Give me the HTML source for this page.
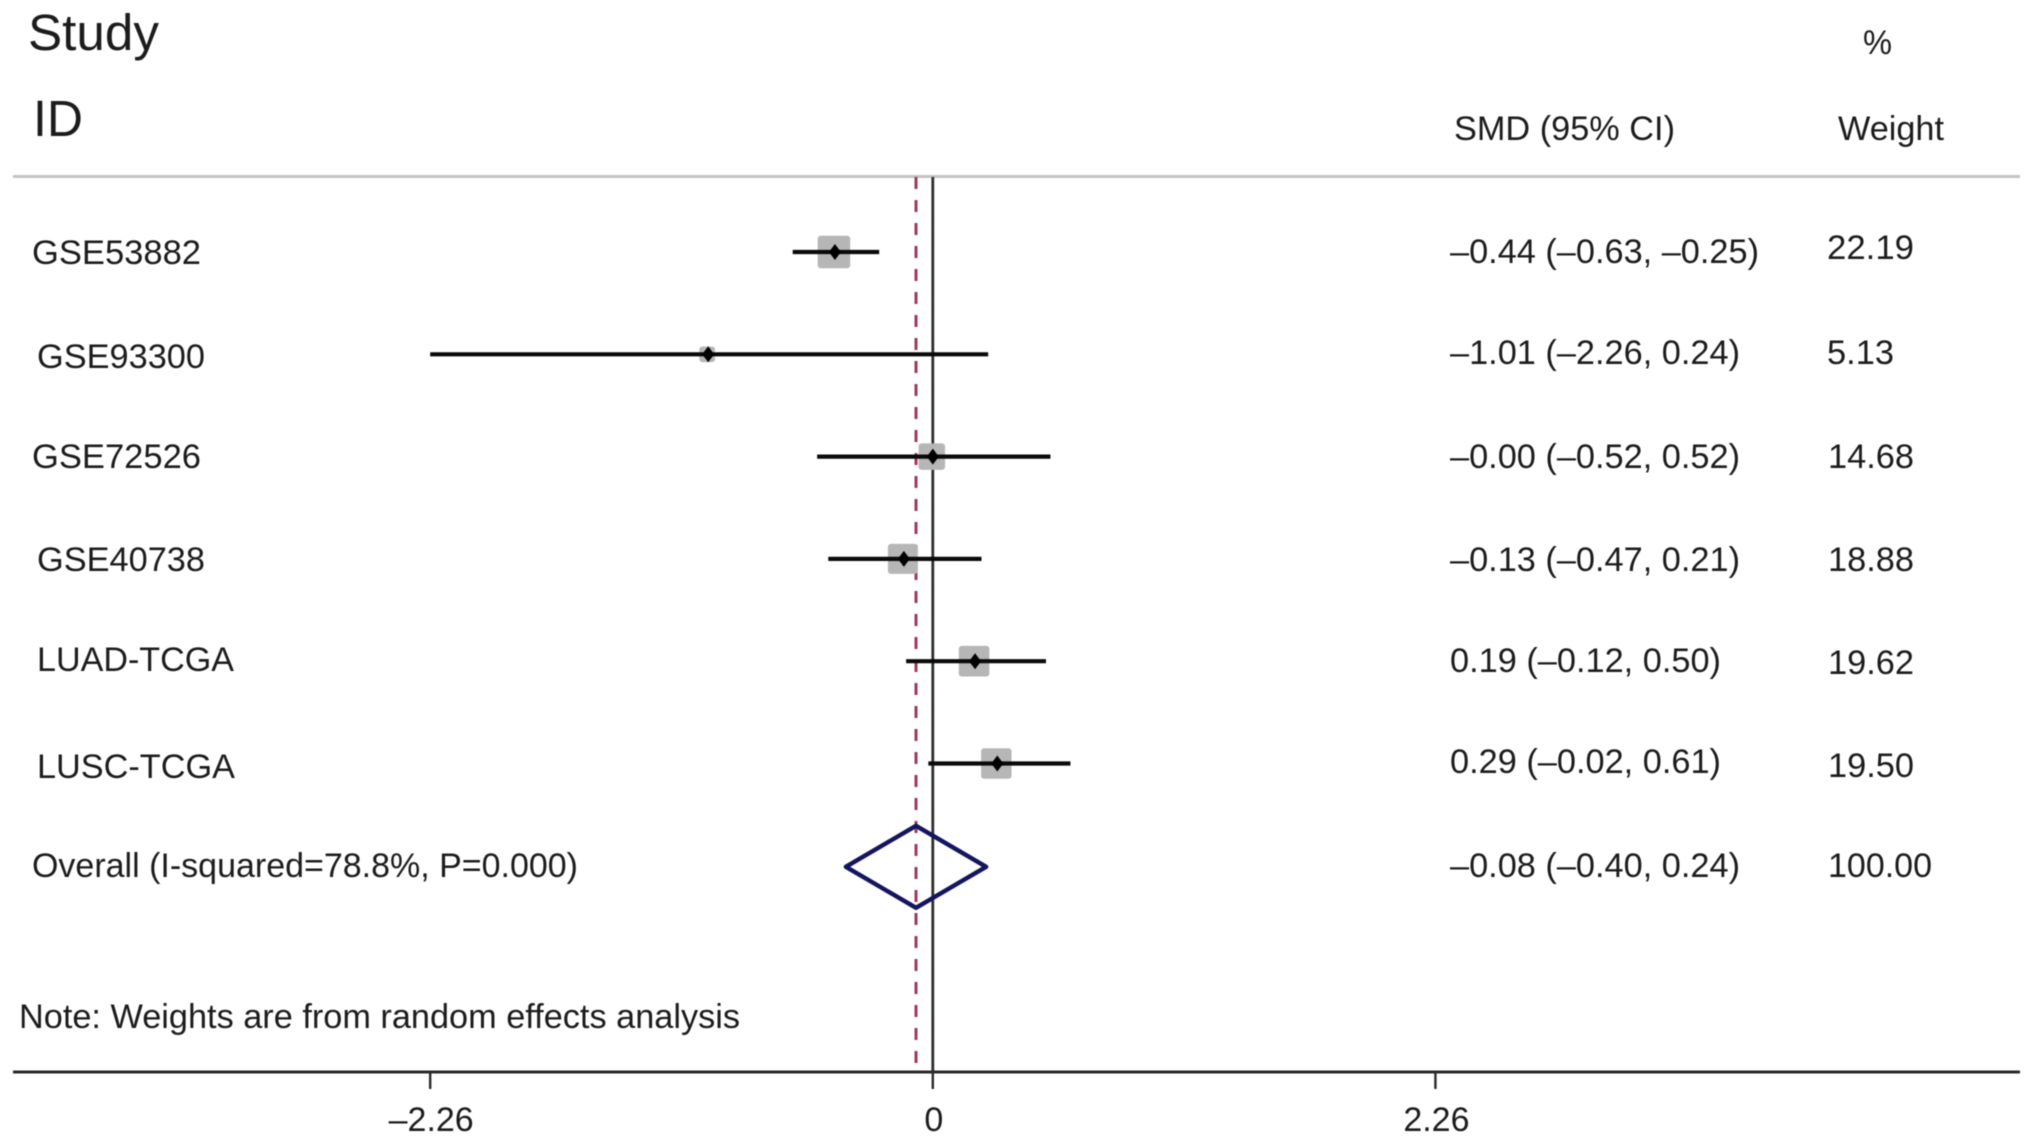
<!DOCTYPE html>
<html lang="en">
<head>
<meta charset="utf-8">
<title>Forest plot of SMD by study</title>
<style>
  html, body { margin: 0; padding: 0; background: #fff; }
  body { width: 2032px; height: 1145px; overflow: hidden; }
  svg { display: block; filter: blur(0.6px); }
  text { font-family: "Liberation Sans", sans-serif; fill: #1c1c1c; }
  .t34 { font-size: 34px; }
  .t51 { font-size: 51px; }
</style>
</head>
<body>
<svg id="chart" width="2032" height="1145" viewBox="0 0 2032 1145" xmlns="http://www.w3.org/2000/svg">
  <rect x="0" y="0" width="2032" height="1145" fill="#ffffff"/>

  <text class="t51" x="28" y="50" textLength="131" lengthAdjust="spacingAndGlyphs">Study</text>
  <text class="t51" x="33" y="136" textLength="50" lengthAdjust="spacingAndGlyphs">ID</text>
  <text class="t34" x="1863" y="54" textLength="29" lengthAdjust="spacingAndGlyphs">%</text>
  <text class="t34" x="1454" y="140" textLength="221" lengthAdjust="spacingAndGlyphs">SMD (95% CI)</text>
  <text class="t34" x="1838" y="140" textLength="106" lengthAdjust="spacingAndGlyphs">Weight</text>

  <rect x="13" y="175" width="2007" height="3" fill="#c4c4c4"/>

  <g id="marks"></g>

  <text class="t34" x="32" y="264" textLength="169" lengthAdjust="spacingAndGlyphs">GSE53882</text>
  <text class="t34" x="37" y="368" textLength="168" lengthAdjust="spacingAndGlyphs">GSE93300</text>
  <text class="t34" x="32" y="468" textLength="169" lengthAdjust="spacingAndGlyphs">GSE72526</text>
  <text class="t34" x="37" y="571" textLength="168" lengthAdjust="spacingAndGlyphs">GSE40738</text>
  <text class="t34" x="37" y="671" textLength="197" lengthAdjust="spacingAndGlyphs">LUAD-TCGA</text>
  <text class="t34" x="37" y="778" textLength="198" lengthAdjust="spacingAndGlyphs">LUSC-TCGA</text>
  <text class="t34" x="32" y="877" textLength="546" lengthAdjust="spacingAndGlyphs">Overall (I-squared=78.8%, P=0.000)</text>
  <text class="t34" x="19" y="1028" textLength="721" lengthAdjust="spacingAndGlyphs">Note: Weights are from random effects analysis</text>

  <text class="t34" x="1450" y="263" textLength="309" lengthAdjust="spacingAndGlyphs">–0.44 (–0.63, –0.25)</text>
  <text class="t34" x="1450" y="364" textLength="290" lengthAdjust="spacingAndGlyphs">–1.01 (–2.26, 0.24)</text>
  <text class="t34" x="1450" y="468" textLength="290" lengthAdjust="spacingAndGlyphs">–0.00 (–0.52, 0.52)</text>
  <text class="t34" x="1450" y="571" textLength="290" lengthAdjust="spacingAndGlyphs">–0.13 (–0.47, 0.21)</text>
  <text class="t34" x="1450" y="672" textLength="271" lengthAdjust="spacingAndGlyphs">0.19 (–0.12, 0.50)</text>
  <text class="t34" x="1450" y="773" textLength="271" lengthAdjust="spacingAndGlyphs">0.29 (–0.02, 0.61)</text>
  <text class="t34" x="1450" y="877" textLength="290" lengthAdjust="spacingAndGlyphs">–0.08 (–0.40, 0.24)</text>

  <text class="t34" x="1827" y="259" textLength="87" lengthAdjust="spacingAndGlyphs">22.19</text>
  <text class="t34" x="1827" y="364" textLength="67" lengthAdjust="spacingAndGlyphs">5.13</text>
  <text class="t34" x="1828" y="468" textLength="86" lengthAdjust="spacingAndGlyphs">14.68</text>
  <text class="t34" x="1828" y="571" textLength="86" lengthAdjust="spacingAndGlyphs">18.88</text>
  <text class="t34" x="1828" y="674" textLength="86" lengthAdjust="spacingAndGlyphs">19.62</text>
  <text class="t34" x="1828" y="777" textLength="86" lengthAdjust="spacingAndGlyphs">19.50</text>
  <text class="t34" x="1828" y="877" textLength="104" lengthAdjust="spacingAndGlyphs">100.00</text>
</svg>

<script>
const categories = ["GSE53882", "GSE93300", "GSE72526", "GSE40738", "LUAD-TCGA", "LUSC-TCGA"];
const smdValues = [-0.44, -1.01, -0.00, -0.13, 0.19, 0.29];
const ciLower = [-0.63, -2.26, -0.52, -0.47, -0.12, -0.02];
const ciUpper = [-0.25, 0.24, 0.52, 0.21, 0.50, 0.61];
const weights = [22.19, 5.13, 14.68, 18.88, 19.62, 19.50];
const overallSmd = [-0.08];
const overallCi = [-0.40, 0.24];
const tickValues = [-2.26, 0, 2.26];
const tickLabels = ["–2.26", "0", "2.26"];

const NS = "http://www.w3.org/2000/svg";
const marks = document.getElementById("marks");
const xScale = function (v) { return 932.8 + 222.4 * v; };
const yScale = function (i) { return 252 + 102.3 * i; };
const squareSize = function (w) { return 6.9 * Math.sqrt(w); };
const AXIS_Y = 1072;
const TOP_Y = 177;

function make(tag, attrs) {
  const el = document.createElementNS(NS, tag);
  Object.keys(attrs).forEach(function (k) { el.setAttribute(k, attrs[k]); });
  marks.appendChild(el);
  return el;
}

const zeroLine = make("line", { x1: xScale(0), x2: xScale(0), y1: TOP_Y, y2: AXIS_Y, stroke: "#2e2e2e", "stroke-width": 2.8 });



const overallLine = make("line", { x1: xScale(overallSmd[0]) + 1, x2: xScale(overallSmd[0]) + 1, y1: TOP_Y, y2: AXIS_Y, stroke: "#a03a58", "stroke-width": 3, "stroke-dasharray": "12 11" });



categories.forEach(function (name, i) {
  const s = squareSize(weights[i]);
  const cx = xScale(smdValues[i]);
  const cy = yScale(i);

  const box = make("rect", { x: cx - s / 2 - 1, y: cy - s / 2, width: s, height: s, rx: 3, fill: "#b6b6b6" });
  
  

  const ci = make("line", { x1: xScale(ciLower[i]), x2: xScale(ciUpper[i]) + 2, y1: cy, y2: cy, stroke: "#0a0a0a", "stroke-width": 4.2 });
  
  

  const dot = make("polygon", { points: (cx - 6) + "," + cy + " " + cx + "," + (cy - 8) + " " + (cx + 6) + "," + cy + " " + cx + "," + (cy + 8), fill: "#000" });
  
  
});

const overallY = yScale(categories.length) + 1;
const dTop = overallY - 41;
const dBottom = overallY + 41;
const diamond = make("polygon", {
  points: [
    (xScale(overallCi[0]) + 2) + "," + overallY,
    (xScale(overallSmd[0]) + 1) + "," + dTop,
    xScale(overallCi[1]) + "," + overallY,
    (xScale(overallSmd[0]) + 1) + "," + dBottom
  ].join(" "),
  fill: "none", stroke: "#15155f", "stroke-width": 4.4, "stroke-linejoin": "round"
});



const axisLine = make("line", { x1: 13, x2: 2020, y1: AXIS_Y, y2: AXIS_Y, stroke: "#2a2a2a", "stroke-width": 3 });



tickValues.forEach(function (v, i) {
  const tick = make("line", { x1: xScale(v), x2: xScale(v), y1: AXIS_Y, y2: 1089, stroke: "#2a2a2a", "stroke-width": 2.4 });
  
  

  const label = make("text", { x: xScale(v) + 1, y: 1131, "text-anchor": "middle", "class": "t34" });
  label.textContent = tickLabels[i];
  
  
});
</script>
</body>
</html>
